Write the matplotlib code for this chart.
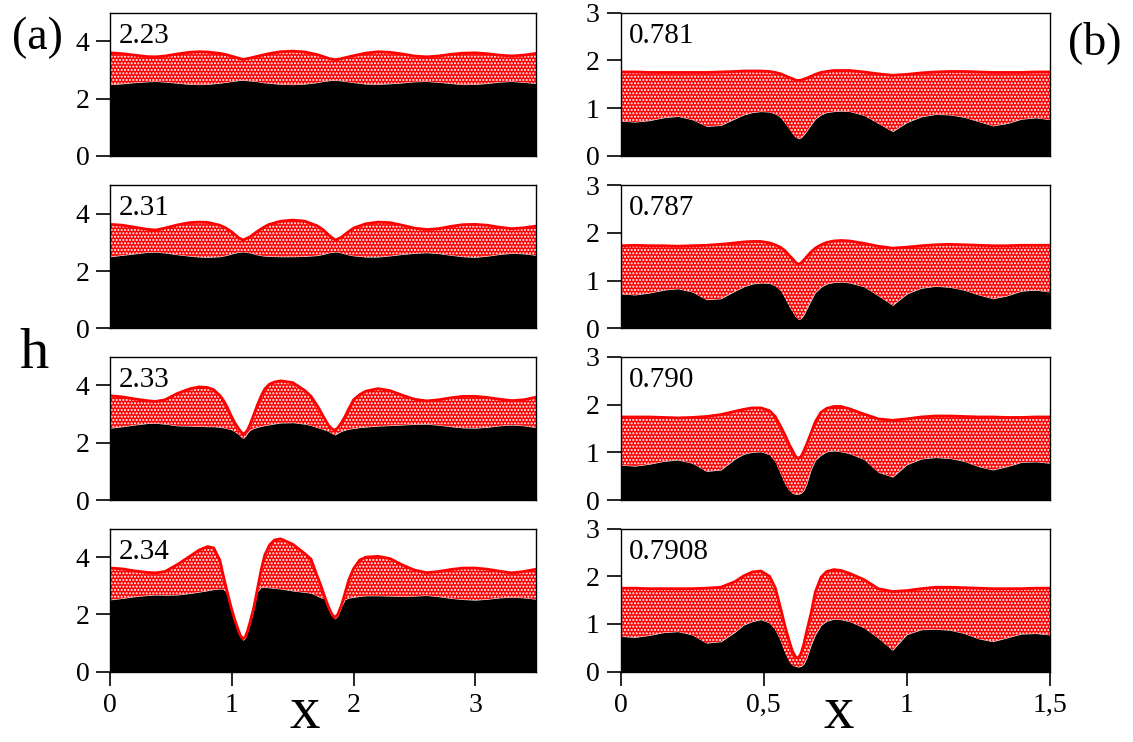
# -*- coding: utf-8 -*-
"""
Two-layer film profiles h(x): black = lower layer, red dotted = upper layer.
Left column (a): four values 2.23 ... 2.34, right column (b): 0.781 ... 0.7908.
"""
import matplotlib
matplotlib.use("Agg")
import matplotlib.pyplot as plt

# ---------------- data ----------------
# column (a), x in [0, 3.5]
x_a = [0, 0.1, 0.2, 0.3, 0.37, 0.45, 0.55, 0.65, 0.73, 0.8, 0.9, 0.95, 1.0, 1.05, 1.09,
       1.15, 1.2, 1.25, 1.3, 1.4, 1.5, 1.6, 1.7, 1.75, 1.8, 1.85, 1.9, 1.95, 2.0, 2.1,
       2.2, 2.3, 2.4, 2.5, 2.6, 2.7, 2.8, 2.9, 3.0, 3.1, 3.2, 3.3, 3.4, 3.5]

top_223 = [3.60, 3.57, 3.52, 3.47, 3.46, 3.49, 3.56, 3.62, 3.64, 3.63, 3.58, 3.54, 3.48, 3.42, 3.37,
           3.42, 3.47, 3.52, 3.57, 3.64, 3.66, 3.63, 3.54, 3.47, 3.40, 3.36, 3.40, 3.45, 3.50, 3.59,
           3.64, 3.62, 3.56, 3.49, 3.46, 3.49, 3.55, 3.59, 3.60, 3.57, 3.52, 3.49, 3.52, 3.58]
bot_223 = [2.49, 2.52, 2.56, 2.59, 2.60, 2.58, 2.54, 2.50, 2.49, 2.50, 2.54, 2.57, 2.60, 2.63, 2.64,
           2.62, 2.60, 2.56, 2.54, 2.50, 2.49, 2.51, 2.56, 2.60, 2.63, 2.64, 2.62, 2.59, 2.56, 2.51,
           2.50, 2.52, 2.55, 2.59, 2.60, 2.57, 2.53, 2.49, 2.50, 2.53, 2.58, 2.60, 2.57, 2.53]

top_231 = [3.63, 3.60, 3.53, 3.46, 3.43, 3.50, 3.61, 3.69, 3.71, 3.70, 3.60, 3.50, 3.36, 3.18, 3.08,
           3.20, 3.36, 3.50, 3.62, 3.74, 3.78, 3.74, 3.58, 3.44, 3.24, 3.08, 3.18, 3.35, 3.50, 3.65,
           3.71, 3.69, 3.60, 3.50, 3.45, 3.48, 3.56, 3.62, 3.63, 3.60, 3.53, 3.48, 3.51, 3.57]
bot_231 = [2.50, 2.55, 2.60, 2.65, 2.66, 2.63, 2.57, 2.52, 2.49, 2.48, 2.50, 2.54, 2.60, 2.65, 2.67,
           2.63, 2.57, 2.53, 2.51, 2.50, 2.50, 2.51, 2.54, 2.58, 2.64, 2.67, 2.63, 2.57, 2.53, 2.49,
           2.49, 2.53, 2.58, 2.62, 2.64, 2.61, 2.55, 2.50, 2.48, 2.52, 2.58, 2.62, 2.60, 2.55]

# finer sampling for the two panels with deep dips
x_a_fine = [0, 0.1, 0.2, 0.3, 0.37, 0.45, 0.55, 0.65, 0.73, 0.8, 0.85, 0.9, 0.93, 0.96, 0.99,
            1.02, 1.05, 1.07, 1.09, 1.11, 1.13, 1.15, 1.18, 1.21, 1.24, 1.27, 1.31, 1.35, 1.4,
            1.5, 1.6, 1.65, 1.7, 1.73, 1.76, 1.79, 1.82, 1.845, 1.87, 1.9, 1.93, 1.96, 2.0,
            2.05, 2.1, 2.2, 2.3, 2.4, 2.5, 2.6, 2.7, 2.8, 2.9, 3.0, 3.1, 3.2, 3.3, 3.4, 3.5]

top_233 = [3.64, 3.60, 3.53, 3.47, 3.44, 3.50, 3.72, 3.88, 3.95, 3.93,
           3.85, 3.65, 3.48, 3.25, 2.97, 2.72, 2.52, 2.40, 2.31, 2.34,
           2.46, 2.65, 2.98, 3.33, 3.63, 3.88, 4.05, 4.12, 4.16, 4.10,
           3.82, 3.62, 3.30, 3.08, 2.85, 2.63, 2.49, 2.44, 2.52, 2.70,
           2.92, 3.18, 3.50, 3.68, 3.80, 3.89, 3.82, 3.66, 3.52, 3.46,
           3.50, 3.57, 3.62, 3.62, 3.58, 3.52, 3.47, 3.50, 3.59]
bot_233 = [2.51, 2.56, 2.62, 2.67, 2.68, 2.65, 2.59, 2.58, 2.57, 2.56,
           2.56, 2.54, 2.52, 2.49, 2.46, 2.39, 2.30, 2.22, 2.15, 2.22,
           2.35, 2.44, 2.50, 2.54, 2.57, 2.60, 2.63, 2.66, 2.69, 2.70,
           2.65, 2.60, 2.53, 2.49, 2.45, 2.40, 2.33, 2.27, 2.33, 2.40,
           2.44, 2.47, 2.50, 2.53, 2.55, 2.58, 2.60, 2.62, 2.64, 2.65,
           2.61, 2.56, 2.52, 2.51, 2.54, 2.59, 2.62, 2.59, 2.53]

top_234 = [3.62, 3.59, 3.52, 3.47, 3.45, 3.50, 3.74, 4.02, 4.25, 4.37,
           4.32, 3.90, 3.33, 2.80, 2.30, 1.85, 1.48, 1.26, 1.15, 1.22,
           1.45, 1.75, 2.25, 2.90, 3.55, 4.08, 4.43, 4.60, 4.64, 4.45,
           4.12, 3.93, 3.35, 3.02, 2.65, 2.30, 2.02, 1.89, 2.00, 2.32,
           2.75, 3.20, 3.60, 3.90, 4.00, 4.03, 3.95, 3.73, 3.55, 3.46,
           3.50, 3.57, 3.62, 3.62, 3.58, 3.51, 3.45, 3.50, 3.58]
bot_234 = [2.51, 2.56, 2.62, 2.66, 2.68, 2.67, 2.68, 2.73, 2.78, 2.83,
           2.87, 2.89, 2.88, 2.70, 2.22, 1.78, 1.42, 1.20, 1.10, 1.17,
           1.40, 1.68, 2.17, 2.80, 2.94, 2.94, 2.93, 2.91, 2.89, 2.82,
           2.77, 2.74, 2.64, 2.58, 2.55, 2.22, 1.95, 1.84, 1.94, 2.25,
           2.52, 2.57, 2.60, 2.63, 2.65, 2.65, 2.64, 2.63, 2.64, 2.66,
           2.62, 2.56, 2.52, 2.50, 2.53, 2.58, 2.60, 2.58, 2.53]

# column (b), x in [0, 1.5]
x_b = [0, 0.05, 0.1, 0.15, 0.2, 0.25, 0.3, 0.35, 0.4, 0.43, 0.46, 0.49, 0.52, 0.54, 0.56,
       0.575, 0.59, 0.6, 0.61, 0.62, 0.63, 0.64, 0.65, 0.665, 0.68, 0.7, 0.72, 0.745, 0.77,
       0.8, 0.85, 0.9, 0.95, 1.0, 1.05, 1.1, 1.15, 1.2, 1.25, 1.3, 1.35, 1.4, 1.45, 1.5]

top_781 = [1.76, 1.76, 1.75, 1.75, 1.75, 1.75, 1.75, 1.76, 1.77, 1.78, 1.78, 1.78, 1.77, 1.75, 1.72,
           1.68, 1.64, 1.62, 1.59, 1.58, 1.59, 1.61, 1.63, 1.67, 1.71, 1.75, 1.77, 1.79, 1.79,
           1.79, 1.76, 1.72, 1.69, 1.71, 1.74, 1.76, 1.77, 1.77, 1.76, 1.75, 1.75, 1.75, 1.76, 1.76]
bot_781 = [0.73, 0.71, 0.74, 0.80, 0.83, 0.76, 0.62, 0.64, 0.78, 0.86, 0.91, 0.93, 0.92, 0.88, 0.80,
           0.68, 0.55, 0.47, 0.40, 0.36, 0.38, 0.44, 0.52, 0.65, 0.77, 0.86, 0.91, 0.93, 0.94,
           0.93, 0.85, 0.68, 0.51, 0.70, 0.82, 0.87, 0.86, 0.81, 0.72, 0.63, 0.68, 0.77, 0.80, 0.76]

top_787 = [1.73, 1.74, 1.73, 1.73, 1.72, 1.73, 1.74, 1.76, 1.79, 1.81, 1.82, 1.82, 1.79, 1.75, 1.69,
           1.62, 1.52, 1.46, 1.39, 1.34, 1.37, 1.43, 1.50, 1.60, 1.68, 1.75, 1.80, 1.83, 1.84,
           1.83, 1.78, 1.72, 1.68, 1.70, 1.73, 1.75, 1.76, 1.75, 1.74, 1.73, 1.73, 1.74, 1.74, 1.74]
bot_787 = [0.72, 0.70, 0.74, 0.80, 0.83, 0.76, 0.60, 0.62, 0.78, 0.87, 0.93, 0.95, 0.94, 0.89, 0.78,
           0.62, 0.45, 0.35, 0.25, 0.19, 0.20, 0.28, 0.40, 0.58, 0.75, 0.86, 0.93, 0.96, 0.97,
           0.95, 0.87, 0.68, 0.48, 0.72, 0.84, 0.88, 0.86, 0.80, 0.70, 0.62, 0.68, 0.78, 0.80, 0.76]

top_790 = [1.74, 1.74, 1.74, 1.73, 1.72, 1.73, 1.75, 1.79, 1.86, 1.90, 1.93, 1.93, 1.87, 1.75, 1.53,
           1.35, 1.15, 1.04, 0.92, 0.87, 0.91, 1.03, 1.17, 1.40, 1.64, 1.84, 1.92, 1.96, 1.96,
           1.91, 1.80, 1.70, 1.67, 1.70, 1.74, 1.76, 1.76, 1.75, 1.74, 1.74, 1.73, 1.73, 1.74, 1.74]
bot_790 = [0.73, 0.71, 0.75, 0.81, 0.84, 0.77, 0.60, 0.63, 0.86, 0.96, 1.00, 1.01, 0.95, 0.80, 0.53,
           0.33, 0.19, 0.14, 0.12, 0.12, 0.14, 0.20, 0.33, 0.63, 0.83, 0.94, 1.01, 1.03, 1.01,
           0.97, 0.85, 0.58, 0.48, 0.74, 0.86, 0.89, 0.87, 0.81, 0.70, 0.63, 0.70, 0.79, 0.80, 0.77]

top_7908 = [1.75, 1.75, 1.74, 1.74, 1.74, 1.74, 1.75, 1.77, 1.89, 2.01, 2.09, 2.11, 2.00, 1.76, 1.30,
            0.93, 0.62, 0.43, 0.32, 0.28, 0.38, 0.58, 0.85, 1.22, 1.67, 1.98, 2.10, 2.14, 2.12,
            2.06, 1.93, 1.74, 1.68, 1.70, 1.74, 1.77, 1.77, 1.76, 1.75, 1.74, 1.74, 1.74, 1.75, 1.75]
bot_7908 = [0.74, 0.72, 0.76, 0.82, 0.84, 0.77, 0.60, 0.63, 0.83, 0.98, 1.05, 1.09, 1.02, 0.88, 0.63,
            0.38, 0.20, 0.14, 0.11, 0.10, 0.11, 0.16, 0.28, 0.55, 0.77, 0.97, 1.06, 1.10, 1.09,
            1.05, 0.92, 0.70, 0.45, 0.78, 0.88, 0.89, 0.87, 0.80, 0.69, 0.63, 0.71, 0.79, 0.80, 0.77]

labels_a = ["2.23", "2.31", "2.33", "2.34"]
labels_b = ["0.781", "0.787", "0.790", "0.7908"]

# ---------------- figure ----------------
plt.rcParams['font.family'] = ['Liberation Serif', 'DejaVu Serif']
plt.rcParams['hatch.linewidth'] = 1.0

fig = plt.figure(figsize=(11.33, 7.42), dpi=100)

row_bottoms = [0.7898, 0.5575, 0.3261, 0.0947]
row_height = 0.193
left_a, width_a = 0.0974, 0.3757
left_b, width_b = 0.5478, 0.379


def draw_panel(ax, x, top, bot, label, xmax, ymax, yticks, last_row):
    """Black bottom layer, red dotted top layer with a red outline."""
    ax.fill_between(x, 0, bot, color="black", lw=0)
    ax.fill_between(x, bot, top, facecolor="#ff0000", edgecolor="white", hatch=".....", lw=0)
    ax.plot(x, top, color="#ff0000", lw=2.0)

    ax.set_xlim(0, xmax)
    ax.set_ylim(0, ymax)
    ax.set_yticks(yticks)
    ax.tick_params(axis="both", direction="out", length=10, width=1.2, labelsize=20, pad=5)
    ax.tick_params(axis="y", right=False)
    ax.tick_params(axis="x", top=False)
    if not last_row:
        ax.tick_params(axis="x", bottom=False, labelbottom=False)
    for sp in ax.spines.values():
        sp.set_linewidth(1.0)
    ax.text(0.02, 0.93, label, transform=ax.transAxes, fontsize=21, ha="left", va="top")


tops_a = [top_223, top_231, top_233, top_234]
bots_a = [bot_223, bot_231, bot_233, bot_234]
xs_a = [x_a, x_a, x_a_fine, x_a_fine]
for i in range(4):
    ax = fig.add_axes([left_a, row_bottoms[i], width_a, row_height])
    draw_panel(ax, xs_a[i], tops_a[i], bots_a[i], labels_a[i], 3.5, 5, [0, 2, 4], i == 3)
    if i == 3:
        ax.set_xticks([0, 1, 2, 3])
        ax.set_xticklabels(["0", "1", "2", "3"])

tops_b = [top_781, top_787, top_790, top_7908]
bots_b = [bot_781, bot_787, bot_790, bot_7908]
for i in range(4):
    ax = fig.add_axes([left_b, row_bottoms[i], width_b, row_height])
    draw_panel(ax, x_b, tops_b[i], bots_b[i], labels_b[i], 1.5, 3, [0, 1, 2, 3], i == 3)
    if i == 3:
        ax.set_xticks([0, 0.5, 1, 1.5])
        ax.set_xticklabels(["0", "0,5", "1", "1,5"])

# panel tags and axis names
fig.text(0.033, 0.949, "(a)", fontsize=33, ha="center", va="center")
fig.text(0.966, 0.943, "(b)", fontsize=33, ha="center", va="center")
fig.text(0.030, 0.504, "h", fontsize=42, ha="center", va="baseline")
fig.text(0.269, 0.002, "x", fontsize=44, ha="center", va="bottom")
fig.text(0.740, 0.002, "x", fontsize=44, ha="center", va="bottom")

fig.savefig("out.png", dpi=100)
